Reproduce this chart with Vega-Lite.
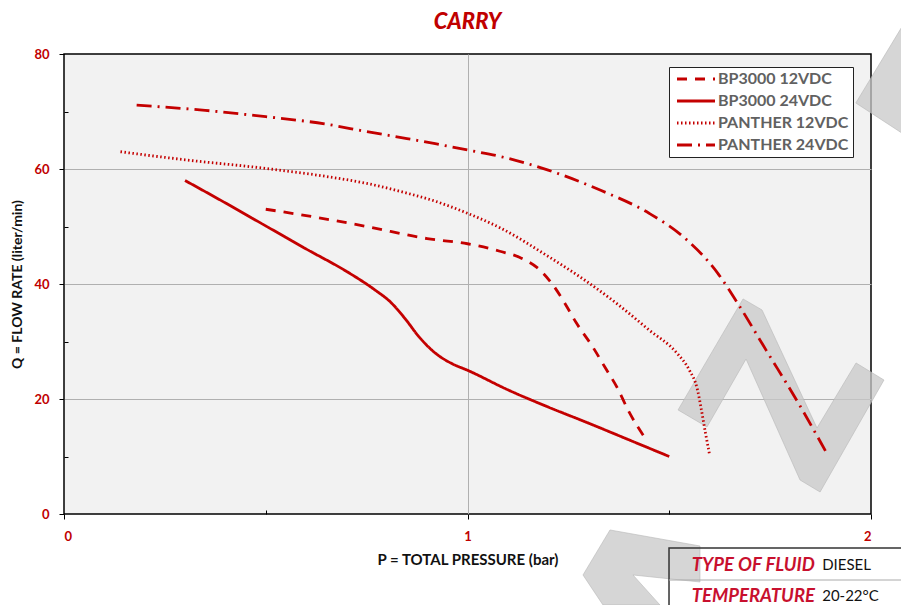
{
  "$schema": "https://vega.github.io/schema/vega-lite/v6.json",
  "width": 807,
  "height": 460,
  "autosize": "none",
  "padding": {"left": 64, "top": 54, "right": 30, "bottom": 91},
  "background": "white",
  "title": {"text": "CARRY", "color": "#c00000", "fontSize": 22, "fontStyle": "italic", "fontWeight": 900, "font": "Lato", "offset": 0, "dy": 14, "anchor": "middle"},
  "config": {
    "view": {"fill": "#f2f2f2", "stroke": "#000", "strokeWidth": 1.5},
    "font": "Lato"
  },
  "data": {
    "values": [
      {"series": "BP3000 12VDC", "p": 0.5, "q": 53},
      {"series": "BP3000 12VDC", "p": 0.6, "q": 51.9},
      {"series": "BP3000 12VDC", "p": 0.75, "q": 50},
      {"series": "BP3000 12VDC", "p": 0.9, "q": 47.9},
      {"series": "BP3000 12VDC", "p": 1.0, "q": 47},
      {"series": "BP3000 12VDC", "p": 1.08, "q": 45.7},
      {"series": "BP3000 12VDC", "p": 1.13, "q": 44.6},
      {"series": "BP3000 12VDC", "p": 1.18, "q": 42.4},
      {"series": "BP3000 12VDC", "p": 1.21, "q": 40},
      {"series": "BP3000 12VDC", "p": 1.24, "q": 36.8},
      {"series": "BP3000 12VDC", "p": 1.27, "q": 33.2},
      {"series": "BP3000 12VDC", "p": 1.31, "q": 29.1},
      {"series": "BP3000 12VDC", "p": 1.34, "q": 25.6},
      {"series": "BP3000 12VDC", "p": 1.37, "q": 22.1},
      {"series": "BP3000 12VDC", "p": 1.4, "q": 17.8},
      {"series": "BP3000 12VDC", "p": 1.44, "q": 13.2},
      {"series": "BP3000 24VDC", "p": 0.3, "q": 58},
      {"series": "BP3000 24VDC", "p": 0.4, "q": 54.1},
      {"series": "BP3000 24VDC", "p": 0.5, "q": 50.1},
      {"series": "BP3000 24VDC", "p": 0.6, "q": 46.1},
      {"series": "BP3000 24VDC", "p": 0.7, "q": 42.2},
      {"series": "BP3000 24VDC", "p": 0.77, "q": 39},
      {"series": "BP3000 24VDC", "p": 0.81, "q": 36.8},
      {"series": "BP3000 24VDC", "p": 0.845, "q": 34},
      {"series": "BP3000 24VDC", "p": 0.88, "q": 30.8},
      {"series": "BP3000 24VDC", "p": 0.92, "q": 28},
      {"series": "BP3000 24VDC", "p": 0.96, "q": 26.2},
      {"series": "BP3000 24VDC", "p": 1.0, "q": 25},
      {"series": "BP3000 24VDC", "p": 1.1, "q": 21.6},
      {"series": "BP3000 24VDC", "p": 1.2, "q": 18.6},
      {"series": "BP3000 24VDC", "p": 1.3, "q": 15.8},
      {"series": "BP3000 24VDC", "p": 1.4, "q": 12.9},
      {"series": "BP3000 24VDC", "p": 1.5, "q": 10},
      {"series": "PANTHER 12VDC", "p": 0.14, "q": 63},
      {"series": "PANTHER 12VDC", "p": 0.3, "q": 61.6},
      {"series": "PANTHER 12VDC", "p": 0.5, "q": 60.1},
      {"series": "PANTHER 12VDC", "p": 0.65, "q": 58.7},
      {"series": "PANTHER 12VDC", "p": 0.75, "q": 57.5},
      {"series": "PANTHER 12VDC", "p": 0.85, "q": 55.8},
      {"series": "PANTHER 12VDC", "p": 0.92, "q": 54.4},
      {"series": "PANTHER 12VDC", "p": 1.0, "q": 52.3},
      {"series": "PANTHER 12VDC", "p": 1.08, "q": 49.8},
      {"series": "PANTHER 12VDC", "p": 1.2, "q": 44.8},
      {"series": "PANTHER 12VDC", "p": 1.29, "q": 40.7},
      {"series": "PANTHER 12VDC", "p": 1.37, "q": 36.6},
      {"series": "PANTHER 12VDC", "p": 1.45, "q": 32},
      {"series": "PANTHER 12VDC", "p": 1.52, "q": 27.9},
      {"series": "PANTHER 12VDC", "p": 1.55, "q": 25},
      {"series": "PANTHER 12VDC", "p": 1.57, "q": 21.6},
      {"series": "PANTHER 12VDC", "p": 1.58, "q": 18},
      {"series": "PANTHER 12VDC", "p": 1.59, "q": 14},
      {"series": "PANTHER 12VDC", "p": 1.6, "q": 10.3},
      {"series": "PANTHER 24VDC", "p": 0.18, "q": 71.1},
      {"series": "PANTHER 24VDC", "p": 0.35, "q": 70.2},
      {"series": "PANTHER 24VDC", "p": 0.5, "q": 69.1},
      {"series": "PANTHER 24VDC", "p": 0.65, "q": 67.8},
      {"series": "PANTHER 24VDC", "p": 0.75, "q": 66.5},
      {"series": "PANTHER 24VDC", "p": 0.85, "q": 65.3},
      {"series": "PANTHER 24VDC", "p": 0.92, "q": 64.4},
      {"series": "PANTHER 24VDC", "p": 1.0, "q": 63.3},
      {"series": "PANTHER 24VDC", "p": 1.08, "q": 62.2},
      {"series": "PANTHER 24VDC", "p": 1.2, "q": 59.8},
      {"series": "PANTHER 24VDC", "p": 1.33, "q": 56.3},
      {"series": "PANTHER 24VDC", "p": 1.45, "q": 52.3},
      {"series": "PANTHER 24VDC", "p": 1.535, "q": 48.2},
      {"series": "PANTHER 24VDC", "p": 1.62, "q": 41.9},
      {"series": "PANTHER 24VDC", "p": 1.67, "q": 36.6},
      {"series": "PANTHER 24VDC", "p": 1.74, "q": 28.5},
      {"series": "PANTHER 24VDC", "p": 1.82, "q": 19.3},
      {"series": "PANTHER 24VDC", "p": 1.89, "q": 10.6}
    ]
  },
  "layer": [
    {
      "data": {"values": [{}]},
      "mark": {"type": "point", "shape": "M-0.936,0.136L-0.345,-0.873L-0.173,-0.773L0.327,0.3L0.682,-0.291L0.936,-0.136L0.355,0.882L0.173,0.773L-0.318,-0.327L-0.673,0.291Z", "size": 48400, "filled": true, "fill": "#c8c8c8", "fillOpacity": 0.75, "opacity": 1, "stroke": "#b8b8b8", "strokeWidth": 1, "strokeOpacity": 0.6},
      "encoding": {"x": {"datum": 1.777}, "y": {"datum": 20.7}}
    },
    {
      "data": {"values": [{}]},
      "mark": {"type": "point", "shape": "M-0.367,0.383L0.45,-0.967L0.45,0.917Z", "size": 14400, "filled": true, "fill": "#c8c8c8", "fillOpacity": 0.75, "opacity": 1, "stroke": "#b8b8b8", "strokeWidth": 1, "strokeOpacity": 0.6},
      "encoding": {"x": {"datum": 2.017}, "y": {"datum": 75.48}}
    },
    {
      "data": {"values": [{}]},
      "mark": {"type": "point", "shape": "M-0.5,-0.617L1,-0.35L1,0.25L-0.117,0.133L0.333,0.633L-0.617,0.633L-0.95,0.133Z", "size": 14400, "filled": true, "fill": "#c8c8c8", "fillOpacity": 0.75, "opacity": 1, "stroke": "#b8b8b8", "strokeWidth": 1, "strokeOpacity": 0.6},
      "encoding": {"x": {"datum": 1.4275}, "y": {"datum": -9.217}}
    },
    {
      "mark": {"type": "line", "interpolate": "monotone", "color": "#c40000"},
      "encoding": {
        "x": {
          "field": "p", "type": "quantitative",
          "scale": {"domain": [0, 2], "nice": false},
          "axis": {
            "title": "P = TOTAL PRESSURE (bar)",
            "values": [0, 0.5, 1, 1.5, 2],
            "labelExpr": "datum.value % 1 === 0 ? '' + datum.value : ''",
            "grid": true,
            "gridColor": "#b0b0b0",
            "gridOpacity": {"condition": {"test": "datum.value === 1", "value": 1}, "value": 0},
            "domain": false,
            "tickColor": "#000",
            "tickSize": {"condition": {"test": "datum.value % 1 === 0", "value": 5}, "value": -4},
            "labelColor": "#c00000", "labelFont": "Lato", "labelFontWeight": "bold", "labelFontSize": 13, "labelPadding": 11,
            "titleFont": "Lato", "titleFontSize": 15, "titleFontWeight": "bold", "titleColor": "#111", "titlePadding": 9
          }
        },
        "y": {
          "field": "q", "type": "quantitative",
          "scale": {"domain": [0, 80], "nice": false},
          "axis": {
            "title": "Q = FLOW RATE (liter/min)",
            "values": [0, 10, 20, 30, 40, 50, 60, 70, 80],
            "labelExpr": "datum.value % 20 === 0 ? datum.label : ''",
            "grid": true,
            "gridColor": "#b0b0b0",
            "gridOpacity": {"condition": {"test": "datum.value % 20 === 0 && datum.value > 0 && datum.value < 80", "value": 1}, "value": 0},
            "domain": false,
            "tickColor": "#000",
            "tickSize": {"condition": {"test": "datum.value % 20 === 0", "value": 5}, "value": -4},
            "labelColor": "#c00000", "labelFont": "Lato", "labelFontWeight": "bold", "labelFontSize": 13, "labelPadding": 10,
            "titleFont": "Lato", "titleFontSize": 14, "titleFontWeight": "bold", "titleColor": "#111", "titlePadding": 9
          }
        },
        "strokeDash": {
          "field": "series", "type": "nominal",
          "scale": {"domain": ["BP3000 12VDC", "BP3000 24VDC", "PANTHER 12VDC", "PANTHER 24VDC"], "range": [[10, 8], [1, 0], [1.5, 2.5], [15, 6, 2, 6]]},
          "legend": {
            "title": null, "orient": "none", "legendX": 605, "legendY": 13, "padding": 4,
            "fillColor": "white", "strokeColor": "#222",
            "symbolType": "M-1,0L6.6,0", "symbolSize": 100, "symbolStrokeWidth": 2.5, "symbolOffset": 1,
            "symbolStrokeColor": "#c40000", "symbolFillColor": "transparent",
            "labelFont": "Lato", "labelFontSize": 16, "labelFontWeight": "bold", "labelColor": "#616161",
            "labelOffset": 28, "rowPadding": 6
          }
        },
        "strokeWidth": {
          "field": "series", "type": "ordinal",
          "scale": {"domain": ["BP3000 12VDC", "BP3000 24VDC", "PANTHER 12VDC", "PANTHER 24VDC"], "range": [2.8, 2.8, 1.8, 1.8]},
          "legend": null
        }
      }
    },
    {
      "data": {"values": [{}]},
      "mark": {"type": "rect", "fillOpacity": 0, "stroke": "#333", "strokeWidth": 1.5},
      "encoding": {"x": {"datum": 1.4994}, "x2": {"datum": 2.3}, "y": {"datum": -5.9}, "y2": {"datum": -16.5}}
    },
    {
      "data": {"values": [{}]},
      "mark": {"type": "rule", "color": "#aaaaaa", "strokeWidth": 1},
      "encoding": {"x": {"datum": 1.4994}, "x2": {"datum": 2.3}, "y": {"datum": -11.48}}
    },
    {
      "data": {"values": [{}]},
      "mark": {"type": "text", "text": "TYPE OF FLUID", "align": "right", "baseline": "middle", "font": "Lato", "fontSize": 18.5, "fontWeight": "bold", "fontStyle": "italic", "color": "#c8102e"},
      "encoding": {"x": {"datum": 1.861}, "y": {"datum": -8.95}}
    },
    {
      "data": {"values": [{}]},
      "mark": {"type": "text", "text": "DIESEL", "align": "left", "baseline": "middle", "font": "Lato", "fontSize": 15, "color": "#111"},
      "encoding": {"x": {"datum": 1.879}, "y": {"datum": -8.95}}
    },
    {
      "data": {"values": [{}]},
      "mark": {"type": "text", "text": "TEMPERATURE", "align": "right", "baseline": "middle", "font": "Lato", "fontSize": 18.5, "fontWeight": "bold", "fontStyle": "italic", "color": "#c8102e"},
      "encoding": {"x": {"datum": 1.861}, "y": {"datum": -14.3}}
    },
    {
      "data": {"values": [{}]},
      "mark": {"type": "text", "text": "20-22°C", "align": "left", "baseline": "middle", "font": "Lato", "fontSize": 15, "color": "#111"},
      "encoding": {"x": {"datum": 1.879}, "y": {"datum": -14.3}}
    }
  ]
}
